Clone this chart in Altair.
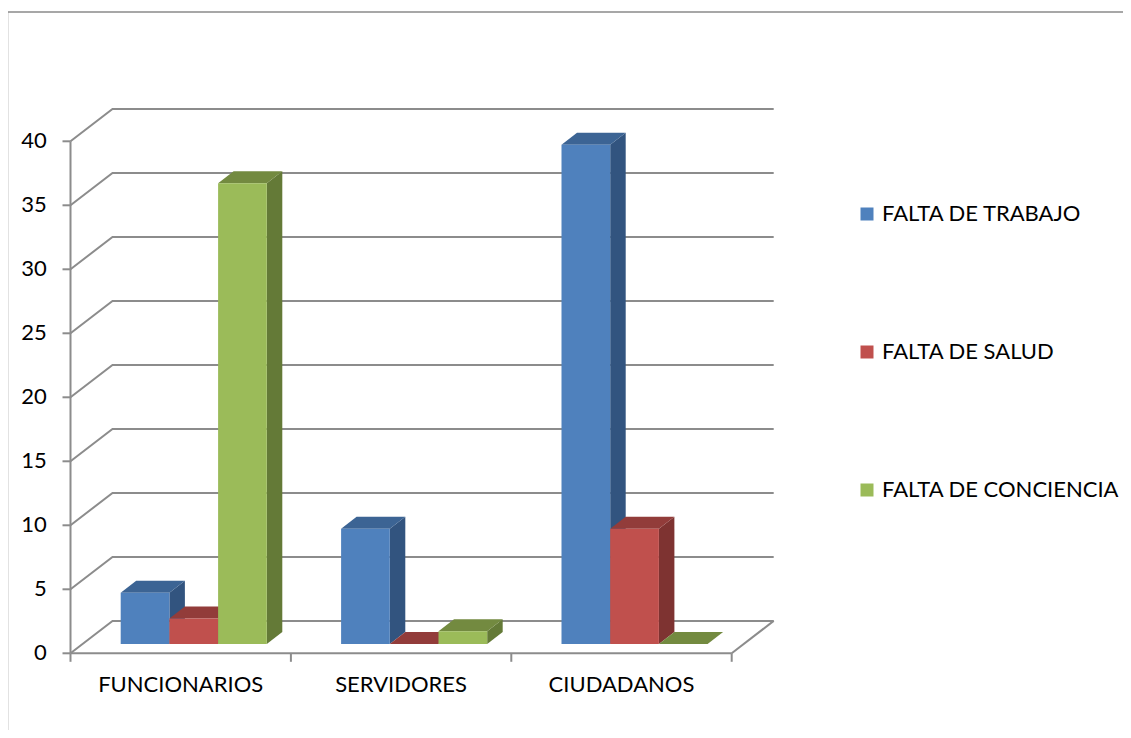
import altair as alt
import pandas as pd

# ---------------- data ----------------
categories = ["FUNCIONARIOS", "SERVIDORES", "CIUDADANOS"]
series_names = ["FALTA DE TRABAJO", "FALTA DE SALUD", "FALTA DE CONCIENCIA"]
falta_trabajo = [4, 9, 39]
falta_salud = [2, 0, 9]
falta_conciencia = [36, 1, 0]
y_ticks = [0, 5, 10, 15, 20, 25, 30, 35, 40]

front_colors = ["#4F81BD", "#C0504D", "#9BBB59"]
top_colors = ["#3C6494", "#923C3A", "#738A40"]
side_colors = ["#32547F", "#7E3331", "#647A37"]

FONT = "Lato"
FONT_SIZE = 22
GRID = "#8C8C8C"

# ---------------- geometry (pixels) ----------------
PAD_L, PAD_T, PAD_R, PAD_B = 6, 6, 2, 2
W, H = 1107, 714
ORIGIN_X, ORIGIN_Y = 8 + PAD_L, 8 + PAD_T
AXIS_X, FLOOR_Y = 70.5, 653.3      # front plane origin
SLOT, PPU = 220.4, 12.8            # px per category slot, px per value unit


def du(px):
    return px / SLOT


def dv(px):
    return px / PPU


WALL_DU, WALL_DV = du(42), dv(32.4)
BAR_DU, BAR_DV = du(12), dv(9.3)
DEPTH_DU, DEPTH_DV = du(15.5), dv(12)
BAR_W, BAR_START = du(48.7), du(38.2)

xs = alt.Scale(domain=[du(ORIGIN_X - AXIS_X), du(ORIGIN_X + W - AXIS_X)], nice=False, zero=False)
ys = alt.Scale(domain=[dv(FLOOR_Y - (ORIGIN_Y + H)), dv(FLOOR_Y - ORIGIN_Y)], nice=False, zero=False)

# ---------------- tables ----------------
values = [falta_trabajo, falta_salud, falta_conciencia]
fronts, tops, sides = [], [], []
for i, cat in enumerate(categories):
    for k, ser in enumerate(series_names):
        val = values[k][i]
        x0 = i + BAR_DU + BAR_START + k * BAR_W
        x1 = x0 + BAR_W
        y0 = BAR_DV
        y1 = BAR_DV + val
        bid = f"{i}-{k}"
        fronts.append(dict(category=cat, series=ser, value=val, x0=x0, x1=x1, y0=y0, y1=y1))
        tops.append(dict(bar=bid, col=top_colors[k], v=y1, xa=x0, xb=x1, o=0))
        tops.append(dict(bar=bid, col=top_colors[k], v=y1 + DEPTH_DV, xa=x0 + DEPTH_DU, xb=x1 + DEPTH_DU, o=1))
        sides.append(dict(bar=bid, col=side_colors[k], u=x1, ya=y0, yb=y1, o=0))
        sides.append(dict(bar=bid, col=side_colors[k], u=x1 + DEPTH_DU, ya=y0 + DEPTH_DV, yb=y1 + DEPTH_DV, o=1))

front_df = pd.DataFrame(fronts)
top_df = pd.DataFrame(tops)
side_df = pd.DataFrame(sides)

ncat = len(categories)
lines = []
for t in y_ticks:
    lines += [dict(id=f"g{t}", o=0, u=0, v=t),
              dict(id=f"g{t}", o=1, u=WALL_DU, v=t + WALL_DV),
              dict(id=f"g{t}", o=2, u=ncat + WALL_DU, v=t + WALL_DV)]
lines += [dict(id="floor_r", o=0, u=ncat, v=0), dict(id="floor_r", o=1, u=ncat + WALL_DU, v=WALL_DV)]
lines += [dict(id="yaxis", o=0, u=0, v=0), dict(id="yaxis", o=1, u=0, v=y_ticks[-1])]
lines += [dict(id="xaxis", o=0, u=0, v=0), dict(id="xaxis", o=1, u=ncat, v=0)]
for t in y_ticks:
    lines += [dict(id=f"yt{t}", o=0, u=du(-8), v=t), dict(id=f"yt{t}", o=1, u=0, v=t)]
for i in range(ncat + 1):
    lines += [dict(id=f"xt{i}", o=0, u=i, v=0), dict(id=f"xt{i}", o=1, u=i, v=dv(-8.5))]
line_df = pd.DataFrame(lines)

# chart border (only top and left edges are visible in the frame)
border_top = dv(FLOOR_Y - 12)
border_left = du(7.5 - AXIS_X)
border_df = pd.DataFrame([
    dict(id="top", o=0, u=border_left, v=border_top),
    dict(id="top", o=1, u=du(1140 - AXIS_X), v=border_top),
    dict(id="left", o=0, u=border_left, v=border_top),
    dict(id="left", o=1, u=border_left, v=dv(FLOOR_Y - 750)),
])

ylab_df = pd.DataFrame(dict(t=y_ticks, lab=[str(t) for t in y_ticks], u=[du(46.7 - AXIS_X)] * len(y_ticks)))
xlab_df = pd.DataFrame(dict(category=categories, u=[i + 0.5 for i in range(ncat)], v=[dv(FLOOR_Y - 685)] * ncat))

# ---------------- layers ----------------
border = alt.Chart(border_df).mark_line(color="#8A8A8A", strokeWidth=1.5, clip=False).encode(
    x=alt.X("u:Q", scale=xs, axis=None), y=alt.Y("v:Q", scale=ys, axis=None),
    detail="id:N", order="o:Q")

grid = alt.Chart(line_df).mark_line(color=GRID, strokeWidth=2).encode(
    x=alt.X("u:Q", scale=xs, axis=None), y=alt.Y("v:Q", scale=ys, axis=None),
    detail="id:N", order="o:Q")

side_layer = alt.Chart(side_df).mark_area(orient="vertical").encode(
    x=alt.X("u:Q", scale=xs, axis=None), y=alt.Y("ya:Q", scale=ys, axis=None), y2="yb:Q",
    detail="bar:N", fill=alt.Fill("col:N", scale=None, legend=None))

top_layer = alt.Chart(top_df).mark_area(orient="horizontal").encode(
    y=alt.Y("v:Q", scale=ys, axis=None), x=alt.X("xa:Q", scale=xs, axis=None), x2="xb:Q",
    detail="bar:N", fill=alt.Fill("col:N", scale=None, legend=None))

front_layer = alt.Chart(front_df).mark_rect().encode(
    x=alt.X("x0:Q", scale=xs, axis=None), x2="x1:Q",
    y=alt.Y("y0:Q", scale=ys, axis=None), y2="y1:Q",
    color=alt.Color("series:N", scale=alt.Scale(domain=series_names, range=front_colors),
                    legend=alt.Legend(title=None, orient="none", legendX=842, legendY=189,
                                      symbolType="square", symbolSize=169, symbolStrokeWidth=0,
                                      symbolOpacity=1, rowPadding=116, padding=0,
                                      labelFont=FONT, labelFontSize=FONT_SIZE, labelColor="#000000",
                                      labelOffset=4, labelLimit=500)),
    tooltip=["category:N", "series:N", "value:Q"])

ylabels = alt.Chart(ylab_df).mark_text(align="right", baseline="middle", font=FONT,
                                       fontSize=FONT_SIZE, color="#000000").encode(
    x=alt.X("u:Q", scale=xs, axis=None), y=alt.Y("t:Q", scale=ys, axis=None), text="lab:N")

xlabels = alt.Chart(xlab_df).mark_text(align="center", baseline="middle", font=FONT,
                                       fontSize=FONT_SIZE, color="#000000").encode(
    x=alt.X("u:Q", scale=xs, axis=None), y=alt.Y("v:Q", scale=ys, axis=None), text="category:N")

chart = alt.layer(border, grid, side_layer, top_layer, front_layer, ylabels, xlabels).properties(
    width=W, height=H,
    background="white",
    padding={"left": PAD_L, "top": PAD_T, "right": PAD_R, "bottom": PAD_B},
    autosize=alt.AutoSizeParams(type="none"),
).configure_view(strokeWidth=0)

chart.save("out.html", embed_options={"renderer": "svg", "actions": False})
